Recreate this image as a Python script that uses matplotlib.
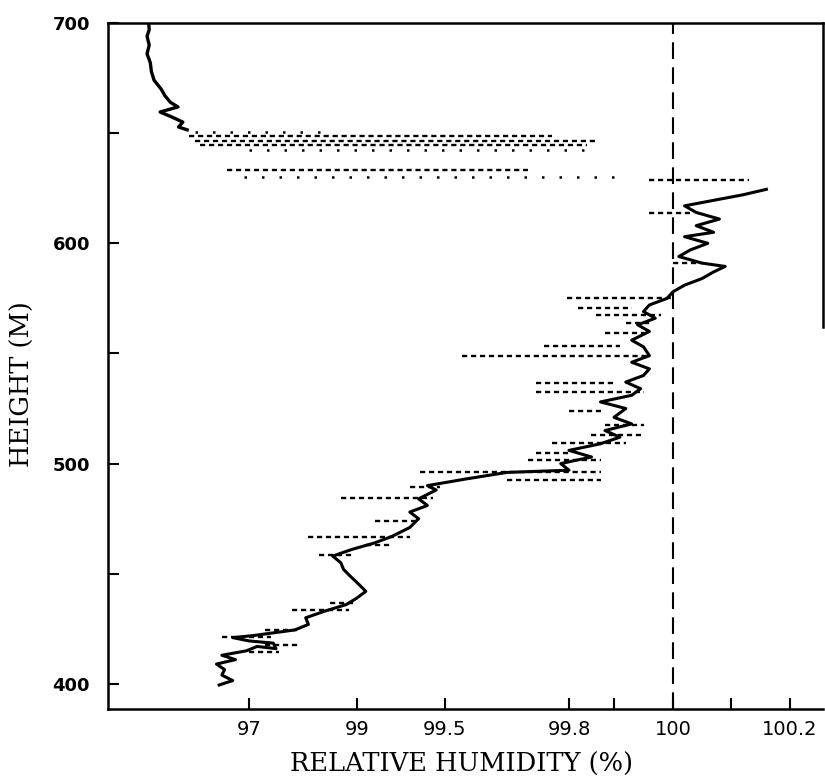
import numpy as np
import matplotlib
matplotlib.use("Agg")
import matplotlib.pyplot as plt

# ---- axis scale (non-linear humidity axis, read from the tick spacing) ----
scale_values = [94.4, 97.0, 99.0, 99.5, 99.8, 99.9, 100.0, 100.1, 100.2, 100.256]
scale_positions = [0, 141, 249, 337, 461, 506, 565, 623, 682, 715]

def fwd(x):
    return np.interp(x, scale_values, scale_positions)

def inv(y):
    return np.interp(y, scale_positions, scale_values)

# ---- data ----
lower_trace_rh = [96.45, 96.70, 96.50, 96.55, 96.40, 96.75, 96.50, 96.95, 97.15, 97.50,
                  97.45, 97.00, 96.70, 97.10, 97.40, 97.85, 98.10, 98.05, 98.40, 98.80,
                  99.00, 99.05, 99.00, 98.85, 98.75, 98.70, 98.55, 98.90, 99.10, 99.20,
                  99.30, 99.35, 99.30, 99.40, 99.35, 99.45, 99.40, 99.55, 99.65, 99.80,
                  99.78, 99.85, 99.80, 99.87, 99.91, 99.88, 99.93, 99.90, 99.92, 99.87,
                  99.93, 99.945, 99.92, 99.95, 99.96, 99.93, 99.96, 99.95, 99.93, 99.96,
                  99.94, 99.97, 99.95, 99.96, 99.99, 100.00, 100.02, 100.05, 100.07, 100.09,
                  100.05, 100.01, 100.03, 100.06, 100.02, 100.07, 100.04, 100.08, 100.04, 100.02,
                  100.08, 100.12, 100.16]
lower_trace_h = [399.5, 401.5, 404.0, 406.5, 409.0, 411.0, 413.0, 415.0, 417.0, 416.0,
                 418.5, 419.5, 421.0, 422.0, 423.0, 424.5, 427.0, 430.0, 433.0, 436.0,
                 439.0, 442.0, 446.0, 449.5, 452.0, 455.0, 458.0, 461.0, 464.0, 467.0,
                 471.0, 475.0, 478.0, 481.0, 484.0, 488.0, 490.0, 493.0, 496.0, 497.0,
                 500.0, 503.0, 506.0, 509.0, 512.0, 515.0, 518.0, 521.0, 525.0, 528.0,
                 531.0, 534.0, 537.0, 540.0, 543.0, 546.0, 549.0, 553.0, 556.0, 560.0,
                 563.0, 566.0, 569.0, 572.0, 575.0, 578.0, 581.0, 584.0, 587.0, 589.5,
                 591.0, 594.0, 597.0, 600.0, 603.0, 605.0, 608.0, 611.0, 614.0, 617.0,
                 620.0, 622.0, 624.5]

upper_trace_rh = [95.86, 95.70, 95.78, 95.58, 95.36, 95.69, 95.55, 95.45, 95.38, 95.25,
                  95.20, 95.18, 95.12, 95.16, 95.12, 95.16, 95.15]
upper_trace_h = [651.5, 652.8, 655.0, 657.3, 659.6, 661.9, 664.0, 667.0, 670.0, 674.0,
                 678.0, 682.0, 686.0, 690.0, 694.0, 697.0, 700.0]

streak_h = [414.5, 417.5, 421.5, 424.5, 433.5, 436.5, 458.5, 463.0, 466.8, 474.0,
            484.5, 489.5, 496.2, 492.6, 501.5, 504.8, 509.5, 513.0, 517.5, 524.0,
            532.5, 536.5, 548.7, 553.5, 559.5, 563.8, 567.3, 570.5, 575.0, 591.0,
            613.8, 628.7, 633.3, 644.5, 646.5, 648.5]
streak_rh_lo = [97.00, 97.30, 96.50, 97.30, 97.80, 98.50, 98.30, 99.05, 98.10, 99.10,
                98.70, 99.30, 99.36, 99.65, 99.70, 99.72, 99.76, 99.85, 99.88, 99.80,
                99.72, 99.72, 99.54, 99.74, 99.88, 99.92, 99.86, 99.82, 99.795, 100.00,
                99.96, 99.96, 96.60, 96.10, 96.00, 95.90]
streak_rh_hi = [97.55, 97.95, 97.40, 97.90, 98.85, 99.00, 98.95, 99.20, 99.30, 99.33,
                99.43, 99.47, 99.87, 99.87, 99.87, 99.80, 99.92, 99.95, 99.95, 99.87,
                99.95, 99.90, 99.96, 99.91, 99.95, 99.965, 99.98, 99.93, 100.00, 100.05,
                100.03, 100.13, 99.70, 99.84, 99.86, 99.76]

sparse_h = [630.0, 642.5, 650.5]
sparse_rh_lo = [96.90, 97.00, 96.00]
sparse_rh_hi = [99.90, 99.84, 98.60]

reference_rh = 100.0

x_major = [97, 99, 99.5, 99.8, 100, 100.2]
x_major_labels = ["97", "99", "99.5", "99.8", "100", "100.2"]
x_minor = [99.9, 100.1]
y_major = [400, 500, 600, 700]
y_minor = [450, 550, 650]

# ---- figure ----
fig = plt.figure(figsize=(8.25, 7.81), dpi=100)
ax = fig.add_axes([108 / 825, 1 - 709 / 781, 715 / 825, 686 / 781])
ax.set_xscale("function", functions=(fwd, inv))
ax.set_xlim(94.4, 100.256)
ax.set_ylim(388.6, 700)

ax.hlines(streak_h, streak_rh_lo, streak_rh_hi, colors="black",
          linestyles=[(0, (2.2, 1.6))], linewidth=1.7)
ax.hlines(sparse_h, sparse_rh_lo, sparse_rh_hi, colors="black",
          linestyles=[(0, (1.0, 6.0))], linewidth=1.8)
ax.plot(lower_trace_rh, lower_trace_h, color="black", linewidth=2.2, solid_joinstyle="round")
ax.plot(upper_trace_rh, upper_trace_h, color="black", linewidth=2.4, solid_joinstyle="round")
ax.axvline(reference_rh, color="black", linewidth=1.5, linestyle=(0, (8, 4)))

ax.set_xticks(x_major)
ax.set_xticklabels(x_major_labels)
ax.set_xticks(x_minor, minor=True)
ax.set_yticks(y_major)
ax.set_yticks(y_minor, minor=True)

ax.tick_params(axis="both", which="both", direction="in", length=8, width=1.5, color="black")
ax.tick_params(axis="x", which="major", labelsize=14, pad=8)
ax.tick_params(axis="y", which="major", labelsize=13, pad=13)
for lab in ax.get_yticklabels():
    lab.set_fontweight("bold")

for side in ["left", "bottom", "top", "right"]:
    ax.spines[side].set_linewidth(1.8)
ax.spines["right"].set_bounds(562, 700)

ax.set_xlabel("RELATIVE HUMIDITY (%)", fontsize=18.5, family="DejaVu Serif")
ax.set_ylabel("HEIGHT (M)", fontsize=18.5, family="DejaVu Serif")
ax.yaxis.set_label_coords(-0.12, 0.474)
ax.yaxis.label.set_verticalalignment("center")
ax.xaxis.set_label_coords(0.495, -0.062)
ax.xaxis.label.set_verticalalignment("top")

fig.savefig("out.png", dpi=100)
